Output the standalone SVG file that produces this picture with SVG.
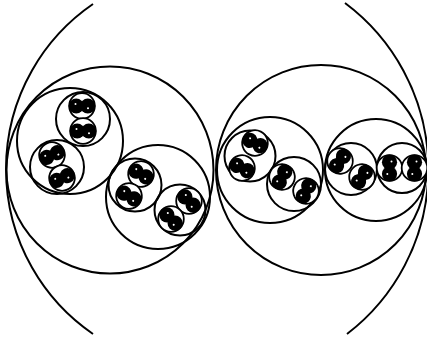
<svg xmlns="http://www.w3.org/2000/svg" xmlns:xlink="http://www.w3.org/1999/xlink" width="427" height="340" viewBox="0 0 427 340">
<style>
.c{fill:none;stroke:#000;stroke-width:2}
</style>
<defs>
<g id="pearl">
<circle r="12.8" fill="#fff" stroke="#000" stroke-width="1.8"/>
<circle cx="-5.8" r="7.6" fill="#000"/>
<circle cx="5.8" r="7.6" fill="#000"/>
<circle cx="0" cy="0" r="4.5" fill="#000"/>
<circle cx="-6.5" cy="-2" r="1" fill="#fff"/>
<circle cx="6" cy="2.2" r="1" fill="#fff"/>
</g>
</defs>
<rect width="427" height="340" fill="#fff"/>
<g id="outer">
<path class="c" d="M93,4 A200,200 0 0 0 93,334"/>
<path class="c" d="M345,3 A207.5,207.5 0 0 1 347,334"/>
</g>
<g id="level1">
<circle class="c" cx="110" cy="170" r="103.5"/>
<circle class="c" cx="321" cy="170" r="105"/>
</g>
<g id="level2">
<circle class="c" cx="70" cy="141" r="53"/>
<circle class="c" cx="158" cy="197" r="52"/>
<circle class="c" cx="270" cy="170" r="53"/>
<circle class="c" cx="376" cy="170" r="51"/>
</g>
<g id="level3">
<circle class="c" cx="83" cy="119" r="27"/>
<circle class="c" cx="57" cy="167" r="27"/>
<circle class="c" cx="135" cy="185" r="26.5"/>
<circle class="c" cx="180" cy="210" r="25.5"/>
<circle class="c" cx="250" cy="156" r="25.5"/>
<circle class="c" cx="294" cy="184" r="27"/>
<circle class="c" cx="351" cy="169" r="26"/>
<circle class="c" cx="402" cy="168" r="25"/>
</g>
<g id="level4">
<use xlink:href="#pearl" transform="translate(82,106) rotate(0)"/>
<use xlink:href="#pearl" transform="translate(83,131) rotate(0)"/>
<use xlink:href="#pearl" transform="translate(52,155) rotate(-24)"/>
<use xlink:href="#pearl" transform="translate(62,178) rotate(-24)"/>
<use xlink:href="#pearl" transform="translate(141,174) rotate(29)"/>
<use xlink:href="#pearl" transform="translate(129,196) rotate(29)"/>
<use xlink:href="#pearl" transform="translate(189,201) rotate(45)"/>
<use xlink:href="#pearl" transform="translate(171,219) rotate(45)"/>
<use xlink:href="#pearl" transform="translate(255,143) rotate(27)"/>
<use xlink:href="#pearl" transform="translate(242,168) rotate(27)"/>
<use xlink:href="#pearl" transform="translate(282,177) rotate(118)"/>
<use xlink:href="#pearl" transform="translate(306,191) rotate(118)"/>
<use xlink:href="#pearl" transform="translate(340,161) rotate(126)"/>
<use xlink:href="#pearl" transform="translate(362,177) rotate(126)"/>
<use xlink:href="#pearl" transform="translate(389.5,168) rotate(90)"/>
<use xlink:href="#pearl" transform="translate(414.5,168) rotate(90)"/>
</g>
</svg>
